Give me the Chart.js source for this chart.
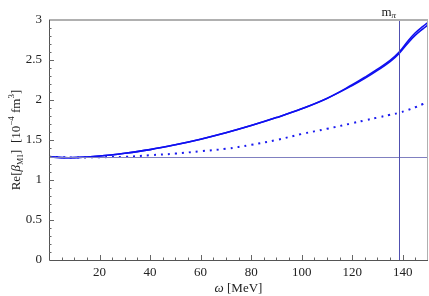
<!DOCTYPE html>
<html><head><meta charset="utf-8">
<style>html,body{margin:0;padding:0;background:#fff}#wrap{width:429px;height:296px;position:relative}</style>
<script src="https://cdn.jsdelivr.net/npm/chart.js@4"></script>
</head><body><div id="wrap"><canvas id="c" width="429" height="296"></canvas></div>
<script>
const omega = [0,5,10,20,30,40,50,60,70,80,90,100,110,120,125,130,135,138.5,142,145,148,150];
const solidA = [1.29,1.28,1.28,1.30,1.335,1.38,1.44,1.51,1.59,1.68,1.78,1.89,2.02,2.18,2.27,2.37,2.48,2.58,2.71,2.81,2.89,2.94];
const solidB = [1.29,1.28,1.28,1.30,1.335,1.38,1.44,1.51,1.59,1.68,1.78,1.89,2.02,2.19,2.285,2.385,2.495,2.595,2.735,2.84,2.92,2.97];
const dotted = [1.29,1.285,1.28,1.285,1.29,1.31,1.33,1.36,1.39,1.44,1.50,1.575,1.64,1.71,1.745,1.78,1.815,1.84,1.875,1.91,1.95,1.98];
const xTicks = [20,40,60,80,100,120,140];
const yTicks = [0,0.5,1,1.5,2,2.5,3];
const refLevel = 1.29;
const mPi = 138.5;

const pts = a => omega.map((x,i)=>({x, y:a[i]}));
const serif = "'Liberation Serif', 'DejaVu Serif', serif";

const deco = {
  id:'deco',
  afterDatasetsDraw(chart){
    const {ctx, chartArea:ca, scales:{x,y}} = chart;
    ctx.save();
    ctx.strokeStyle = '#8080c0'; ctx.lineWidth = 1;
    const yr = Math.round(y.getPixelForValue(refLevel))+0.5;
    ctx.beginPath(); ctx.moveTo(ca.left, yr); ctx.lineTo(ca.right, yr); ctx.stroke();
    ctx.strokeStyle = '#5050b0';
    const xm = Math.round(x.getPixelForValue(mPi))+0.5;
    ctx.beginPath(); ctx.moveTo(xm, ca.top); ctx.lineTo(xm, ca.bottom); ctx.stroke();
    ctx.strokeStyle = '#b0b0b0'; ctx.lineWidth = 2;
    ctx.beginPath(); ctx.moveTo(ca.left, ca.top); ctx.lineTo(ca.right, ca.top); ctx.stroke();
    ctx.lineWidth = 1;
    ctx.beginPath(); ctx.moveTo(ca.right-0.5, ca.top); ctx.lineTo(ca.right-0.5, ca.bottom); ctx.stroke();
    ctx.strokeStyle = '#555'; ctx.lineWidth = 1;
    ctx.beginPath(); ctx.moveTo(ca.left+0.5, ca.top); ctx.lineTo(ca.left+0.5, ca.bottom+0.5); ctx.lineTo(ca.right, ca.bottom+0.5); ctx.stroke();
    ctx.strokeStyle = '#666';
    ctx.beginPath();
    for (let v=5; v<150; v+=5){
      const px = Math.round(x.getPixelForValue(v))+0.5;
      const len = (v%20===0)? 5 : 2.5;
      ctx.moveTo(px, ca.bottom); ctx.lineTo(px, ca.bottom-len);
    }
    for (let k=1; k<30; k++){
      const py = Math.round(y.getPixelForValue(k/10))+0.5;
      const len = (k%5===0)? 5 : 2.5;
      ctx.moveTo(ca.left, py); ctx.lineTo(ca.left+len, py);
    }
    ctx.stroke();
    // m_pi label
    ctx.fillStyle = '#222';
    ctx.font = '13px ' + serif;
    ctx.textBaseline = 'alphabetic'; ctx.textAlign = 'left';
    const mw = ctx.measureText('m').width;
    ctx.fillText('m', xm - 18, 16);
    ctx.font = 'italic 9px ' + serif;
    ctx.fillText('\u03c0', xm - 18 + mw, 18);
    // x title
    ctx.font = 'italic 13px ' + serif;
    const w1 = ctx.measureText('\u03c9').width;
    ctx.font = '13px ' + serif;
    const w2 = ctx.measureText(' [MeV]').width;
    let sx = (ca.left+ca.right)/2 - (w1+w2)/2;
    ctx.font = 'italic 13px ' + serif; ctx.fillText('\u03c9', sx, 292);
    ctx.font = '13px ' + serif; ctx.fillText(' [MeV]', sx+w1, 292);
    // y title rotated
    ctx.translate(20, 140);
    ctx.rotate(-Math.PI/2);
    const parts = [
      ['Re[', '13px', 0], ['\u03b2', 'italic 13px', 0], ['M1', '8px', 3], [']  [10', '13px', 0],
      ['\u22124', '9px', -6], [' fm', '13px', 0], ['3', '9px', -6], [']', '13px', 0]
    ];
    let tw = 0;
    parts.forEach(p=>{ ctx.font = p[1]+' '+serif; tw += ctx.measureText(p[0]).width; });
    let cx = -tw/2;
    parts.forEach(p=>{ ctx.font = p[1]+' '+serif; ctx.fillText(p[0], cx, p[2]); cx += ctx.measureText(p[0]).width; });
    ctx.restore();
  }
};

new Chart(document.getElementById('c'), {
  type:'line',
  data:{ datasets:[
    {data:pts(solidA), borderColor:'#1010f0', borderWidth:1.6, pointRadius:0, tension:0.4, fill:false},
    {data:pts(solidB), borderColor:'#1010f0', borderWidth:1.6, pointRadius:0, tension:0.4, fill:false},
    {data:pts(dotted), borderColor:'#1a1af0', borderWidth:2, borderDash:[2,5], pointRadius:0, tension:0.4, fill:false}
  ]},
  options:{
    responsive:false, animation:false, devicePixelRatio:1,
    layout:{padding:{top:20, right:1, left:0, bottom:0}},
    plugins:{legend:{display:false}, tooltip:{enabled:false}},
    scales:{
      x:{type:'linear', min:0, max:150,
        afterBuildTicks(s){ s.ticks = [0].concat(xTicks).map(v=>({value:v})); },
        afterFit(s){ s.height = 36; },
        grid:{display:false, drawTicks:false}, border:{display:false},
        ticks:{padding:5, maxRotation:0, autoSkip:false, color:'#222', font:{family:serif, size:13},
          callback:(v)=> v===0 ? '' : String(v)}
      },
      y:{type:'linear', min:0, max:3,
        afterBuildTicks(s){ s.ticks = yTicks.map(v=>({value:v})); },
        afterFit(s){ s.width = 49; },
        grid:{display:false, drawTicks:false}, border:{display:false},
        ticks:{padding:7, color:'#222', font:{family:serif, size:13}, callback:(v)=>String(v)}
      }
    }
  },
  plugins:[deco]
});
</script></body></html>
